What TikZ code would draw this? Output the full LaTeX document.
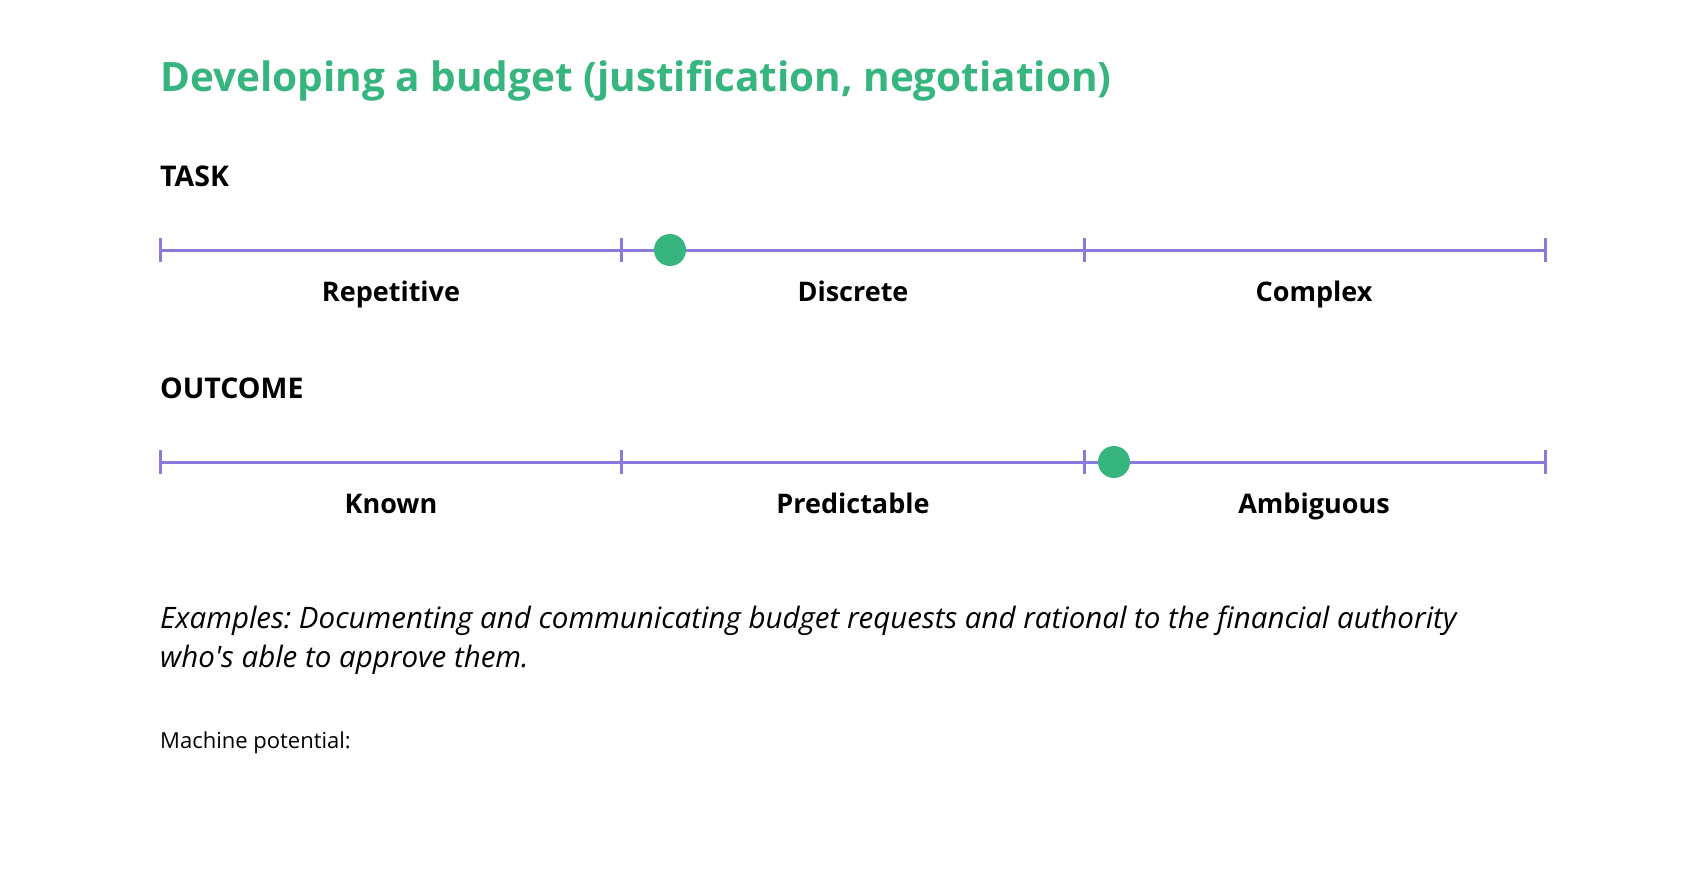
\documentclass[tikz,border=0pt]{standalone}
\usepackage{fontspec}
\setmainfont{Open Sans}
\frenchspacing
\definecolor{budgetgreen}{RGB}{55,181,126}
\definecolor{scalepurple}{RGB}{137,122,221}
\tikzset{
  scaleline/.style={draw=scalepurple, line width=3pt},
  marker/.style={circle, fill=budgetgreen, minimum size=32pt, inner sep=0pt},
  heading/.style={anchor=base west, inner sep=0pt, font=\bfseries\fontsize{28.5}{32}\selectfont},
  band/.style={anchor=base, inner sep=0pt, font=\bfseries\fontsize{27}{30}\selectfont},
  remark/.style={anchor=base west, inner sep=0pt, font=\itshape\fontsize{29.5}{34}\selectfont},
}
\begin{document}
\begin{tikzpicture}[x=1pt,y=-1pt]
    \useasboundingbox (0,0) rectangle (1706,872);

    \node[anchor=base west, inner sep=0pt, text=budgetgreen,
          font=\bfseries\fontsize{40.5}{48}\selectfont] (title) at (160,92)
          {Developing a budget (justification, negotiation)};

    % task scale
    \node[heading] (task) at (160,186) {TASK};
    \foreach \i/\x in {0/160,1/621,2/1084,3/1545} {
        \coordinate (t\i) at (\x,250);
        \draw[scaleline] ([yshift=12pt]t\i) -- ([yshift=-12pt]t\i);
    }
    \draw[scaleline] (t0) -- (t3);
    \node[marker] (tdot) at (670,250) {};
    \node[band] (rep) at (391,301) {Repetitive};
    \node[band] (dis) at (853,301) {Discrete};
    \node[band] (com) at (1314,301) {Complex};

    % outcome scale
    \node[heading] (outcome) at (160,398) {OUTCOME};
    \foreach \i/\x in {0/160,1/621,2/1084,3/1545} {
        \coordinate (o\i) at (\x,462);
        \draw[scaleline] ([yshift=12pt]o\i) -- ([yshift=-12pt]o\i);
    }
    \draw[scaleline] (o0) -- (o3);
    \node[marker] (odot) at (1114,462) {};
    \node[band] (kno) at (391,513) {Known};
    \node[band] (pre) at (853,513) {Predictable};
    \node[band] (amb) at (1314,513) {Ambiguous};

    \node[remark] (examples) at (160,628)
          {Examples: Documenting and communicating budget requests and rational to the financial authority};
    \node[remark] (examples2) at (160,667) {who\textquotesingle s able to approve them.};
    \node[heading, font=\fontsize{22}{26}\selectfont] (machine) at (160,748) {Machine potential:};
\end{tikzpicture}
\end{document}
